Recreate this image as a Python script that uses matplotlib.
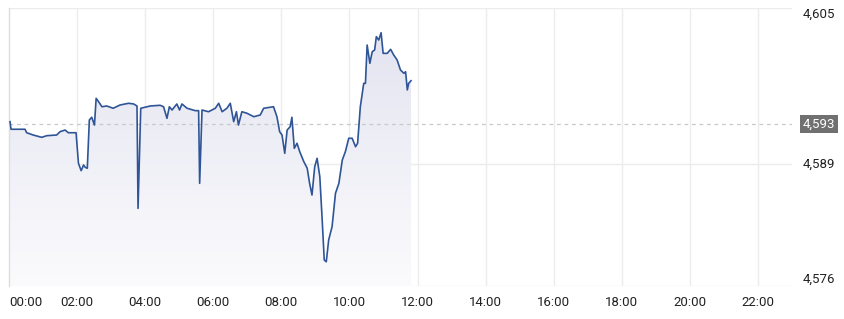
import numpy as np
import matplotlib.pyplot as plt
from matplotlib.patches import Polygon
from matplotlib.colors import LinearSegmentedColormap
from matplotlib.transforms import blended_transform_factory

# hours since midnight, price
hours = [0.03, 0.06, 0.47, 0.52, 0.71, 0.96, 1.11, 1.40, 1.50, 1.65, 1.74, 1.97,
         2.04, 2.12, 2.19, 2.24, 2.30, 2.36, 2.43, 2.51, 2.56, 2.63, 2.73, 2.87,
         3.06, 3.26, 3.51, 3.66, 3.76, 3.79, 3.87, 4.15, 4.44, 4.54, 4.64, 4.71,
         4.79, 4.93, 5.01, 5.08, 5.23, 5.47, 5.57, 5.60, 5.67, 5.86, 6.06, 6.16,
         6.26, 6.40, 6.50, 6.60, 6.68, 6.74, 6.84, 6.99, 7.19, 7.38, 7.48, 7.77,
         7.87, 7.95, 8.02, 8.10, 8.17, 8.26, 8.31, 8.38, 8.46, 8.54, 8.66, 8.76,
         8.83, 8.90, 8.98, 9.05, 9.13, 9.20, 9.26, 9.32, 9.39, 9.49, 9.59, 9.69,
         9.79, 9.88, 9.98, 10.08, 10.18, 10.24, 10.32, 10.42, 10.47, 10.52, 10.60,
         10.67, 10.74, 10.79, 10.86, 10.93, 10.99, 11.11, 11.21, 11.30, 11.40,
         11.50, 11.60, 11.65, 11.70, 11.74, 11.81]
prices = [4593.14, 4592.35, 4592.35, 4591.99, 4591.75, 4591.51, 4591.68, 4591.75,
          4592.10, 4592.27, 4591.99, 4591.99, 4588.80, 4588.03, 4588.62, 4588.38,
          4588.28, 4593.32, 4593.60, 4592.79, 4595.58, 4595.23, 4594.70, 4594.78,
          4594.54, 4594.88, 4595.06, 4594.99, 4594.78, 4584.10, 4594.54, 4594.78,
          4594.85, 4594.70, 4593.49, 4594.70, 4594.36, 4594.99, 4594.36, 4594.99,
          4594.54, 4594.29, 4594.29, 4586.71, 4594.36, 4594.18, 4594.54, 4595.06,
          4594.18, 4594.54, 4595.06, 4593.14, 4594.18, 4592.79, 4594.18, 4594.02,
          4593.66, 4593.84, 4594.54, 4594.70, 4593.66, 4592.10, 4591.75, 4589.84,
          4592.27, 4592.62, 4593.60, 4590.36, 4590.89, 4590.01, 4588.97, 4588.28,
          4586.71, 4585.49, 4588.44, 4589.32, 4587.40, 4582.88, 4578.71, 4578.53,
          4580.80, 4582.19, 4585.67, 4586.71, 4589.14, 4590.01, 4591.41, 4591.41,
          4590.53, 4590.89, 4594.70, 4597.14, 4597.14, 4601.14, 4599.23, 4600.44,
          4600.62, 4602.01, 4601.66, 4602.42, 4600.27, 4600.27, 4600.69, 4600.10,
          4599.58, 4598.53, 4598.19, 4598.35, 4596.45, 4597.14, 4597.42]

y_min, y_max = 4576, 4605
y_ticks = [4605, 4588.73, 4576]
y_labels = ['4,605', '4,589', '4,576']
prev_close = 4592.9
prev_label = '4,593'
x_ticks = list(range(0, 23, 2))
x_labels = ['%02d:00' % h for h in x_ticks]

plt.rcParams['font.family'] = ['Roboto', 'DejaVu Sans']
fs = 9.5

fig = plt.figure(figsize=(8.45, 3.19), dpi=100)
ax = fig.add_axes([9 / 845, 1 - 286 / 319, 783 / 845, 278 / 319])
ax.set_xlim(0, 23)
ax.set_ylim(y_min, y_max)

# gradient fill under the line
grad = np.linspace(1, 0, 256).reshape(-1, 1)
cmap = LinearSegmentedColormap.from_list('fill', ['#fbfbfd', '#e2e2f0'])
img = ax.imshow(grad, extent=[0, 23, y_min, y_max], aspect='auto', cmap=cmap,
                origin='upper', zorder=1)
poly = Polygon(list(zip(hours, prices)) + [(hours[-1], y_min), (hours[0], y_min)],
               closed=True, transform=ax.transData, facecolor='none', edgecolor='none')
ax.add_patch(poly)
img.set_clip_path(poly)

ax.plot(hours, prices, color='#2f5597', lw=1.2, zorder=3)
ax.axhline(prev_close, color='#c8c8c8', lw=0.9, ls=(0, (3, 3)), zorder=2)

for s in ['top', 'right', 'bottom']:
    ax.spines[s].set_visible(False)
ax.spines['left'].set_color('#dddddd')
ax.spines['left'].set_linewidth(1)

for yt in y_ticks:
    ax.axhline(yt, color='#ececec', lw=1, zorder=0)
for xt in x_ticks[1:]:
    ax.axvline(xt, color='#ececec', lw=1, zorder=0)

ax.set_yticks([])
ax.set_xticks(x_ticks)
ax.set_xticklabels(x_labels, fontsize=fs, color='#222222')
ax.tick_params(axis='x', length=0, pad=7)
ax.get_xticklabels()[0].set_ha('left')

tr = blended_transform_factory(ax.transAxes, ax.transData)
lx = (835 - 9) / 783
ax.text(lx, y_ticks[0], y_labels[0], transform=tr, ha='right', va='top',
        fontsize=fs, color='#222222')
ax.text(lx, y_ticks[1], y_labels[1], transform=tr, ha='right', va='center',
        fontsize=fs, color='#222222')
ax.text(lx, y_ticks[2], y_labels[2], transform=tr, ha='right', va='bottom',
        fontsize=fs, color='#222222')
ax.text(lx, prev_close, prev_label, transform=tr, ha='right', va='center',
        fontsize=fs, color='white',
        bbox=dict(boxstyle='square,pad=0.22', fc='#707070', ec='none'))

fig.savefig('out.png', dpi=100)
